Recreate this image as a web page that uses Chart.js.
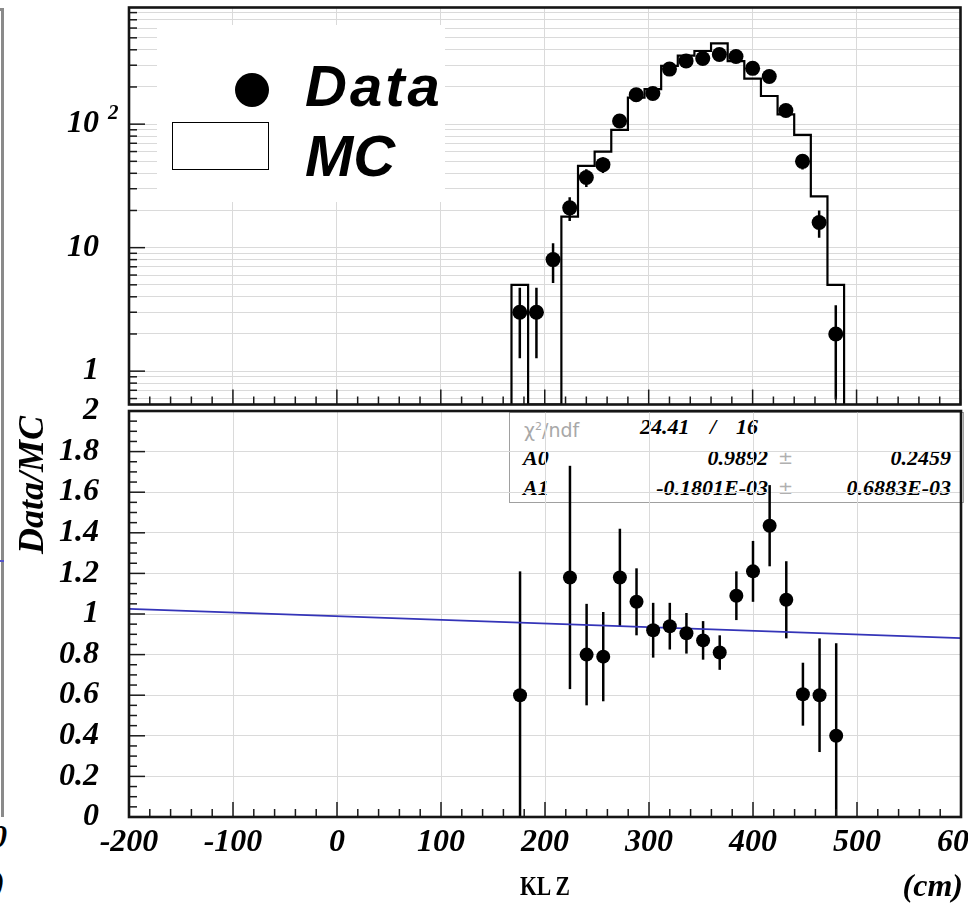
<!DOCTYPE html>
<html>
<head>
<meta charset="utf-8">
<script src="https://cdn.jsdelivr.net/npm/chart.js@4.4.1/dist/chart.umd.min.js"></script>
<style>
html,body{margin:0;padding:0;background:#fff;}
#wrap{position:relative;width:968px;height:903px;overflow:hidden;background:#fff;}
canvas{position:absolute;left:0;}
#cTop{top:0;z-index:2;}
#cBot{top:390px;z-index:3;}
.t{position:absolute;white-space:nowrap;}
.serif{font-family:"Liberation Serif","Times New Roman",serif;font-weight:bold;font-style:italic;color:#000;}
.sans{font-family:"Liberation Sans",Arial,sans-serif;font-weight:bold;font-style:italic;color:#000;}
#legend{position:absolute;left:157px;top:25px;width:288px;height:177px;background:#fff;z-index:4;}
#stats{position:absolute;left:509px;top:412px;width:453px;height:89px;border:1.5px solid #a0a0a0;z-index:1;}
#stats .t{font-size:22px;line-height:22px;height:22px;}
#leftpanel{position:absolute;left:-30px;top:8px;width:31px;height:806px;border-right:3px solid #8a8a8a;border-top:3px solid #8a8a8a;z-index:1;}
</style>
</head>
<body>
<div id="wrap">
  <div id="leftpanel"></div>
  <div class="t" style="left:0;top:560px;width:4px;height:2px;background:#5555cc;z-index:1;"></div>
  <div class="t serif" style="left:-9px;top:820px;font-size:32px;line-height:32px;">0</div>
  <div class="t serif" style="left:-6px;top:866px;font-size:32px;line-height:32px;">)</div>

  <canvas id="cTop" width="968" height="412"></canvas>
  <canvas id="cBot" width="968" height="513"></canvas>

  <div id="legend">
    <div class="t" style="left:78px;top:48px;width:34px;height:34px;border-radius:50%;background:#000;"></div>
    <div class="t" style="left:15px;top:97px;width:95px;height:46px;border:1.5px solid #000;"></div>
    <div class="t sans" style="left:148px;top:32px;font-size:58px;line-height:58px;letter-spacing:3px;">Data</div>
    <div class="t sans" style="left:148px;top:102px;font-size:58px;line-height:58px;">MC</div>
  </div>

  <div id="stats">
    <div class="t" style="left:14px;top:3px;font-family:'DejaVu Sans',sans-serif;font-size:19px;color:#a8a8a8;">χ<sup style="font-size:11px">2</sup>/ndf</div>
    <div class="t serif" style="left:130px;top:3px;">24.41</div>
    <div class="t serif" style="left:200px;top:3px;">/</div>
    <div class="t serif" style="left:226px;top:3px;">16</div>
    <div class="t serif" style="left:13px;top:34px;">A0</div>
    <div class="t serif" style="right:195px;top:34px;">0.9892</div>
    <div class="t" style="left:268px;top:34px;font-family:'DejaVu Sans',sans-serif;font-size:18px;color:#b0b0b0;">±</div>
    <div class="t serif" style="right:12px;top:34px;">0.2459</div>
    <div class="t serif" style="left:13px;top:64px;">A1</div>
    <div class="t serif" style="right:195px;top:64px;">-0.1801E-03</div>
    <div class="t" style="left:268px;top:64px;font-family:'DejaVu Sans',sans-serif;font-size:18px;color:#b0b0b0;">±</div>
    <div class="t serif" style="right:12px;top:64px;">0.6883E-03</div>
  </div>

  <div class="t serif" style="left:31px;top:485px;font-size:36px;line-height:36px;transform:translate(-50%,-50%) rotate(-90deg);z-index:4;">Data/MC</div>
  <div class="t" style="left:520px;top:873px;font-family:'Liberation Serif',serif;font-weight:bold;font-size:27px;line-height:27px;transform:scaleX(0.8);transform-origin:left center;z-index:4;">KL Z</div>
  <div class="t serif" style="right:5px;top:869px;font-size:32px;line-height:32px;z-index:4;">(cm)</div>
</div>

<script>
// ---------------- data ----------------
const binCenters = [176,192,208,224,240,256,272,288,304,320,336,352,368,384,400,416,432,448,464,480];
const binWidth = 16;
const dataCounts = [3,3,8,21,37,47,106,173,177,279,325,340,366,353,283,243,129,50,16,2];
const dataErrors = [1.73,1.73,2.83,4.58,6.08,6.86,10.3,13.2,13.3,16.7,18.0,18.4,19.1,18.8,16.8,15.6,11.4,7.07,4.0,1.41];
const mcCounts = [5,0,0,17.8,46,60,90,164,192,296,359,391,451,324,234,169,120,82,26,5];

const ratioX = [176,224,240,256,272,288,304,320,336,352,368,384,400,416,432,448,464,480];
const ratioValues = [0.60,1.18,0.80,0.79,1.18,1.06,0.92,0.94,0.905,0.87,0.81,1.09,1.21,1.435,1.07,0.605,0.60,0.40];
const ratioErrors = [0.61,0.55,0.25,0.22,0.24,0.165,0.135,0.115,0.10,0.095,0.085,0.12,0.15,0.20,0.19,0.155,0.28,0.456];

const fitA0 = 0.9892;
const fitA1 = -0.1801e-3;

const xRange = [-200, 600];
const xTickValues = [-200,-100,0,100,200,300,400,500,600];
const xTickLabels = ['-200','-100','0','100','200','300','400','500','600'];
const upperRange = [0.537, 880];
const upperTickValues = [1, 10, 100];
const upperTickLabels = ['1', '10', '10'];
const lowerRange = [0, 2];
const lowerTickValues = [0,0.2,0.4,0.6,0.8,1,1.2,1.4,1.6,1.8,2];
const lowerTickLabels = ['0','0.2','0.4','0.6','0.8','1','1.2','1.4','1.6','1.8','2'];

// ---------------- helpers ----------------
const tickFont = {family:'Liberation Serif', size:32, style:'italic', weight:'bold'};
const gridColor = '#dadada';

function logGridValues(min, max){
  const out = [];
  for (let e = -1; e <= 3; e++){
    for (let k = 1; k <= 9; k++){
      const v = k * Math.pow(10, e);
      if (v >= min && v <= max) out.push(+v.toPrecision(6));
    }
  }
  return out;
}
function labelFor(values, labels){
  return (v) => { const i = values.findIndex(t => Math.abs(t - v) < 1e-9); return i >= 0 ? labels[i] : ''; };
}

const errorBars = {
  id: 'errorBars',
  beforeDatasetsDraw(chart){
    const ctx = chart.ctx, a = chart.chartArea;
    const xs = chart.scales.x, ys = chart.scales.y;
    ctx.save();
    ctx.beginPath(); ctx.rect(a.left, a.top, a.right - a.left, a.bottom - a.top); ctx.clip();
    ctx.strokeStyle = '#000'; ctx.lineWidth = 2.5;
    chart.data.datasets.forEach(ds => {
      if (!ds.errors) return;
      ds.data.forEach((p, i) => {
        const e = ds.errors[i];
        const px = xs.getPixelForValue(p.x);
        const y1 = ys.getPixelForValue(p.y + e);
        const lo = p.y - e;
        const y2 = (ys.type === 'logarithmic' && lo <= 0) ? a.bottom + 5 : ys.getPixelForValue(lo);
        ctx.beginPath(); ctx.moveTo(px, y1); ctx.lineTo(px, y2); ctx.stroke();
      });
    });
    ctx.restore();
  }
};

function makeFrame(yTicks, extra){
  return {
    id: 'frameTicks',
    afterDraw(chart){
      const ctx = chart.ctx, a = chart.chartArea;
      const xs = chart.scales.x, ys = chart.scales.y;
      ctx.save();
      ctx.strokeStyle = '#1a1a1a'; ctx.lineWidth = 1.5;
      for (let v = xRange[0]; v <= xRange[1] + 1e-9; v += 20){
        const px = xs.getPixelForValue(v);
        const major = Math.abs(v % 100) < 1e-6;
        ctx.beginPath(); ctx.moveTo(px, a.bottom); ctx.lineTo(px, a.bottom - (major ? 15 : 8)); ctx.stroke();
      }
      yTicks.forEach(t => {
        const py = ys.getPixelForValue(t.v);
        ctx.beginPath(); ctx.moveTo(a.left, py); ctx.lineTo(a.left + (t.major ? 16 : 8), py); ctx.stroke();
      });
      ctx.lineWidth = 2.6; ctx.strokeStyle = '#151515';
      ctx.strokeRect(a.left, a.top, a.right - a.left, a.bottom - a.top);
      if (extra) extra(chart, ctx);
      ctx.restore();
    }
  };
}

Chart.defaults.color = '#000';
Chart.defaults.animation = false;

// ---------------- upper panel ----------------
const floorVal = upperRange[0];
const mcPoints = [{x: binCenters[0] - binWidth / 2, y: floorVal}];
binCenters.forEach((c, i) => mcPoints.push({x: c - binWidth / 2, y: mcCounts[i] > 0 ? mcCounts[i] : floorVal}));
mcPoints.push({x: binCenters[binCenters.length - 1] + binWidth / 2, y: floorVal});

const dataPoints = binCenters.map((c, i) => ({x: c, y: dataCounts[i]}));
const upperGrid = logGridValues(upperRange[0], upperRange[1]);
const upperTickMarks = upperGrid.map(v => ({v, major: upperTickValues.some(t => Math.abs(t - v) < 1e-9)}));

new Chart(document.getElementById('cTop'), {
  type: 'scatter',
  data: {
    datasets: [
      {label:'Data', data: dataPoints, errors: dataErrors, pointRadius: 7.5, pointHoverRadius: 7.5,
       pointBackgroundColor:'#000', pointBorderWidth:0, showLine:false},
      {label:'MC', data: mcPoints, showLine:true, stepped:'before', borderColor:'#000', borderWidth:2.2,
       pointRadius:0, fill:false}
    ]
  },
  options: {
    responsive:false, devicePixelRatio:1,
    layout:{padding:{top:5, right:3, left:0, bottom:0}},
    plugins:{legend:{display:false}, tooltip:{enabled:false}},
    scales:{
      x:{type:'linear', min:xRange[0], max:xRange[1],
         afterBuildTicks:(s)=>{ s.ticks = xTickValues.map(v=>({value:v})); },
         ticks:{display:false},
         grid:{color:gridColor, drawTicks:false, lineWidth:1},
         border:{display:false},
         afterFit:(s)=>{ s.height = 2; s.paddingLeft = 0; s.paddingRight = 0; }},
      y:{type:'logarithmic', min:upperRange[0], max:upperRange[1], bounds:'data',
         afterBuildTicks:(s)=>{ s.ticks = upperGrid.map(v=>({value:v})); },
         ticks:{autoSkip:false, font:tickFont, padding:30, callback: labelFor(upperTickValues, upperTickLabels)},
         grid:{color:gridColor, drawTicks:false, lineWidth:1},
         border:{display:false},
         afterFit:(s)=>{ s.width = 129; s.paddingTop = 0; s.paddingBottom = 0; }}
    }
  },
  plugins:[errorBars, makeFrame(upperTickMarks, (chart, ctx) => {
    const ys = chart.scales.y;
    ctx.fillStyle = '#000';
    ctx.font = 'italic bold 21px "Liberation Serif"';
    ctx.textBaseline = 'middle'; ctx.textAlign = 'left';
    ctx.fillText('2', 108, ys.getPixelForValue(100) - 11);
  })]
});

// ---------------- lower panel ----------------
const ratioPoints = ratioX.map((x, i) => ({x, y: ratioValues[i]}));
const fitPoints = [xRange[0], xRange[1]].map(x => ({x, y: fitA0 + fitA1 * x}));
const lowerTickMarks = [];
for (let v = 0; v <= 2.0001; v += 0.05){
  const r = Math.round(v * 100) / 100;
  lowerTickMarks.push({v: r, major: Math.abs(r * 5 - Math.round(r * 5)) < 1e-6});
}

new Chart(document.getElementById('cBot'), {
  type: 'scatter',
  data: {
    datasets: [
      {label:'Data/MC', data: ratioPoints, errors: ratioErrors, pointRadius:7, pointHoverRadius:7,
       pointBackgroundColor:'#000', pointBorderWidth:0, showLine:false},
      {label:'fit', data: fitPoints, showLine:true, borderColor:'#3434b8', borderWidth:1.8, pointRadius:0, fill:false}
    ]
  },
  options: {
    responsive:false, devicePixelRatio:1,
    layout:{padding:{top:21, right:3, left:0, bottom:0}},
    plugins:{legend:{display:false}, tooltip:{enabled:false}},
    scales:{
      x:{type:'linear', min:xRange[0], max:xRange[1],
         afterBuildTicks:(s)=>{ s.ticks = xTickValues.map(v=>({value:v})); },
         ticks:{autoSkip:false, maxRotation:0, font:tickFont, padding:7, callback: labelFor(xTickValues, xTickLabels)},
         grid:{color:gridColor, drawTicks:false, lineWidth:1},
         border:{display:false},
         afterFit:(s)=>{ s.height = 86; s.paddingLeft = 0; s.paddingRight = 0; }},
      y:{type:'linear', min:lowerRange[0], max:lowerRange[1],
         afterBuildTicks:(s)=>{ s.ticks = lowerTickValues.map(v=>({value:v})); },
         ticks:{autoSkip:false, font:tickFont, padding:30, callback: labelFor(lowerTickValues, lowerTickLabels)},
         grid:{color:gridColor, drawTicks:false, lineWidth:1},
         border:{display:false},
         afterFit:(s)=>{ s.width = 129; s.paddingTop = 0; s.paddingBottom = 0; }}
    }
  },
  plugins:[errorBars, makeFrame(lowerTickMarks)]
});
</script>
</body>
</html>
